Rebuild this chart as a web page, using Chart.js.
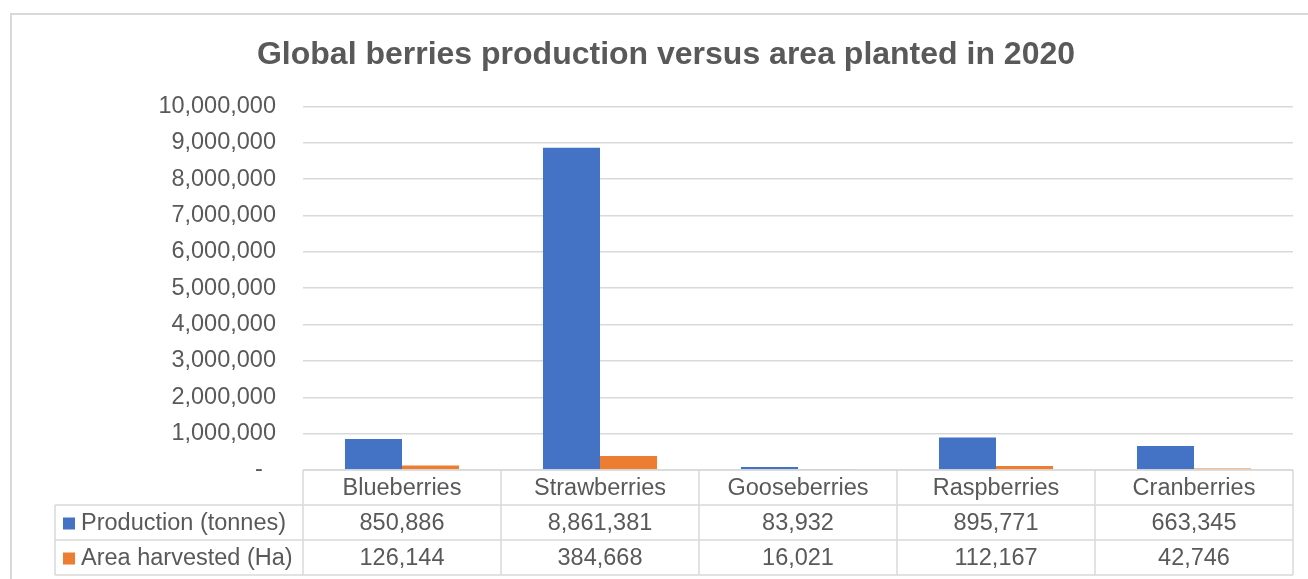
<!DOCTYPE html>
<html>
<head>
<meta charset="utf-8">
<script src="https://cdn.jsdelivr.net/npm/chart.js@4/dist/chart.umd.min.js"></script>
<style>
  html, body { margin: 0; padding: 0; background: #fff; overflow: hidden; width: 1308px; height: 579px; }
  #frame { position: absolute; left: 10px; top: 13px; width: 1400px; height: 700px; border: 2px solid #d9d9d9; }
  #chart { position: absolute; left: 10px; top: 14px; }
</style>
</head>
<body>
<div id="frame"></div>
<canvas id="chart" width="1312" height="580"></canvas>
<script>
// data
const categories = ["Blueberries", "Strawberries", "Gooseberries", "Raspberries", "Cranberries"];
const production = [850886, 8861381, 83932, 895771, 663345];
const areaHarvested = [126144, 384668, 16021, 112167, 42746];
const seriesNames = ["Production (tonnes)", "Area harvested (Ha)"];
const seriesColors = ["#4472C4", "#ED7D31"];
const yMax = 10000000;
const yStep = 1000000;

const FONT = "'Liberation Sans', Arial, sans-serif";
const TEXT = "#595959";
const LINE = "#d9d9d9";

const fmt = (v) => v.toLocaleString("en-US");

// data table under the plot, drawn from the x scale
const dataTable = {
  id: "dataTable",
  afterDraw(chart) {
    const { ctx, chartArea: a, scales } = chart;
    const x = scales.x;
    const rowH = 35;
    const top = a.bottom;
    const tableLeft = 45;
    const colW = (a.right - a.left) / categories.length;

    ctx.save();
    ctx.strokeStyle = LINE;
    ctx.lineWidth = 1.5;
    ctx.beginPath();
    ctx.moveTo(a.left, top);
    ctx.lineTo(a.right, top);
    for (let r = 1; r <= 3; r++) {
      ctx.moveTo(tableLeft, top + r * rowH);
      ctx.lineTo(a.right, top + r * rowH);
    }
    for (let i = 0; i <= categories.length; i++) {
      const xx = a.left + i * colW;
      ctx.moveTo(xx, top);
      ctx.lineTo(xx, top + 3 * rowH);
    }
    ctx.moveTo(tableLeft, top + rowH);
    ctx.lineTo(tableLeft, top + 3 * rowH);
    ctx.stroke();

    ctx.fillStyle = TEXT;
    ctx.font = "23.5px " + FONT;
    ctx.textAlign = "center";
    ctx.textBaseline = "middle";
    const rows = [production, areaHarvested];
    categories.forEach((c, i) => {
      const cx = x.getPixelForValue(i);
      ctx.fillText(c, cx, top + rowH / 2 + 1.5);
      rows.forEach((vals, r) => {
        ctx.fillText(fmt(vals[i]), cx, top + (r + 1.5) * rowH + 1);
      });
    });

    ctx.textAlign = "left";
    seriesNames.forEach((name, r) => {
      const cy = top + (r + 1.5) * rowH;
      ctx.fillStyle = seriesColors[r];
      ctx.fillRect(53, cy - 5, 12, 12);
      ctx.fillStyle = TEXT;
      ctx.fillText(name, 71, cy + 1);
    });
    ctx.restore();
  }
};

new Chart(document.getElementById("chart"), {
  type: "bar",
  data: {
    labels: categories,
    datasets: [
      { label: seriesNames[0], data: production, backgroundColor: seriesColors[0] },
      { label: seriesNames[1], data: areaHarvested, backgroundColor: seriesColors[1] }
    ]
  },
  options: {
    responsive: false,
    animation: false,
    layout: { padding: { left: 0, right: 0, top: 0, bottom: 124 } },
    datasets: { bar: { categoryPercentage: 0.576, barPercentage: 1 } },
    plugins: {
      legend: { display: false },
      tooltip: { enabled: false },
      title: {
        display: true,
        text: "Global berries production versus area planted in 2020",
        color: TEXT,
        font: { family: FONT, size: 32, weight: "bold" },
        padding: { top: 22, bottom: 32 }
      }
    },
    scales: {
      x: { display: false },
      y: {
        min: 0,
        max: yMax,
        afterFit(scale) { scale.width = 293; },
        border: { display: false },
        grid: { color: LINE, lineWidth: 1.5, drawTicks: false },
        ticks: {
          stepSize: yStep,
          padding: 27,
          color: TEXT,
          font: { family: FONT, size: 23.5 },
          callback: (v) => (v === 0 ? "-  " : fmt(v))
        }
      },
      // empty right-hand strip so the title centres on the whole chart object
      yRight: {
        position: "right",
        afterFit(scale) { scale.width = 29; },
        border: { display: false },
        grid: { display: false },
        ticks: { display: false }
      }
    }
  },
  plugins: [dataTable]
});
</script>
</body>
</html>
